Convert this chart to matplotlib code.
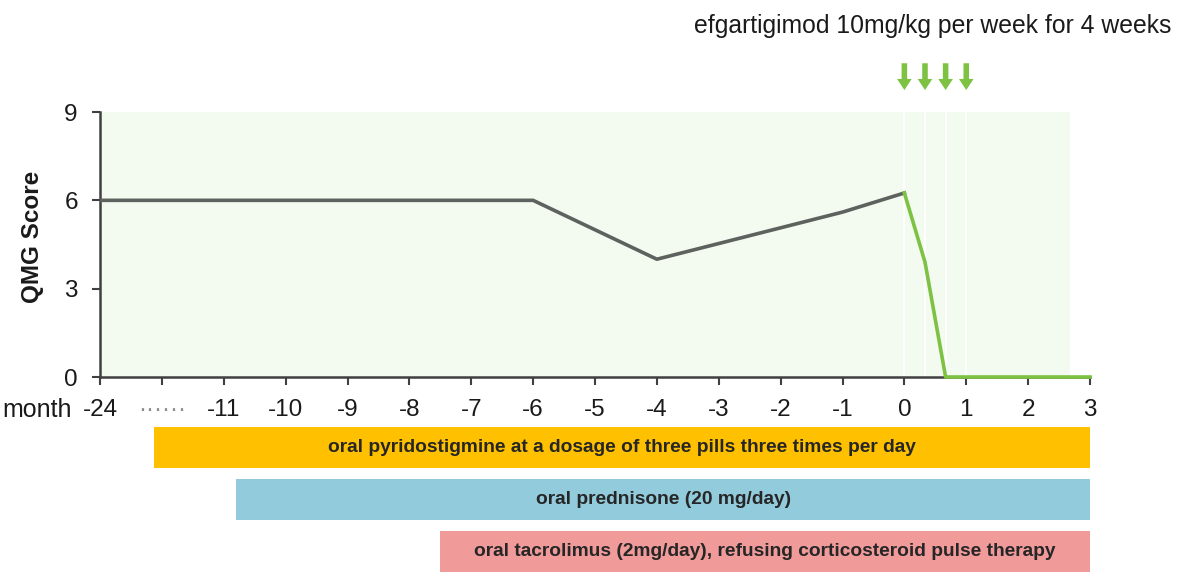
import numpy as np
import matplotlib.pyplot as plt

plt.rcParams['font.family'] = ['Liberation Sans', 'DejaVu Sans']

# --------------------------------
# Data
# --------------------------------
tick_labels = ["-24", "\u00b7\u00b7\u00b7\u00b7\u00b7\u00b7", "-11", "-10", "-9", "-8", "-7", "-6",
               "-5", "-4", "-3", "-2", "-1", "0", "1", "2", "3"]

# QMG score before efgartigimod (months)
pre_months = [-24, -6, -4, -1, 0]
pre_score = [6, 6, 4, 5.6, 6.25]

# QMG score during / after efgartigimod (months)
post_months = [0, 1/3, 2/3, 1, 2, 3]
post_score = [6.25, 3.9, 0, 0, 0, 0]

# weekly infusions
dose_months = [0, 1/3, 2/3, 1]

treatments = [
    "oral pyridostigmine at a dosage of three pills three times per day",
    "oral prednisone (20 mg/day)",
    "oral tacrolimus (2mg/day), refusing corticosteroid pulse therapy",
]
treat_start = [-18.3, -10.8, -7.5]
treat_end = [3, 3, 3]
treat_colors = ["#FFC000", "#92CBDC", "#F09A9A"]

shade_end = 2.67


def month_to_pos(m):
    # axis is broken between -24 and -11
    m = np.asarray(m, dtype=float)
    return np.where(m >= -11, m + 13, (m + 24) / 13 * 2)


# --------------------------------
# Figure
# --------------------------------
W, H = 1181, 578
fig = plt.figure(figsize=(W/100, H/100), dpi=100)

ax = fig.add_axes([100/W, 1-377/H, 990/W, 265/H])
ax.set_xlim(0, 16)
ax.set_ylim(0, 9)

ax.axvspan(0, float(month_to_pos(shade_end)), color="#F3FAEF", zorder=0, lw=0)
ax.vlines(month_to_pos(dose_months), 0, 9, color="white", lw=1.3, zorder=1)

ax.plot(month_to_pos(pre_months), pre_score, color="#5E625F", lw=2.6,
        zorder=3, solid_joinstyle="round")
ax.plot(month_to_pos(post_months), post_score, color="#7DC243", lw=2.6,
        zorder=4, solid_joinstyle="round", clip_on=False)

for s in ["top", "right"]:
    ax.spines[s].set_visible(False)
for s in ["left", "bottom"]:
    ax.spines[s].set_color("#404040")
    ax.spines[s].set_linewidth(1.8)

ax.set_yticks([0, 3, 6, 9])
ax.set_xticks(np.arange(len(tick_labels)))
ax.set_xticklabels(tick_labels)
ax.tick_params(axis="both", direction="out", length=6, width=1.5,
               color="#404040", labelsize=17.5, labelcolor="#1A1A1A")
ax.tick_params(axis="y", pad=10)
ax.tick_params(axis="x", pad=10)
ax.get_xticklabels()[1].set_color("#8A8A8A")

fig.text(33/W, 1-237/H, "QMG Score", rotation=90, ha="center", va="center",
         fontsize=17.5, fontweight="bold", color="#1A1A1A")
fig.text(2/W, 1-417/H, "month", ha="left", va="baseline",
         fontsize=18, color="#1A1A1A")

fig.text(933/W, 1-33/H, "efgartigimod 10mg/kg per week for 4 weeks",
         ha="center", va="baseline", fontsize=17.8, color="#1A1A1A")

# weekly dose arrows
for p in month_to_pos(dose_months):
    ax.annotate("", xy=(p, 9.65), xytext=(p, 10.75),
                arrowprops=dict(arrowstyle="simple,head_width=1.05,head_length=0.8,tail_width=0.4",
                                color="#7DC243", mutation_scale=10, lw=0),
                annotation_clip=False)

# --------------------------------
# Treatment bars
# --------------------------------
ax2 = fig.add_axes([100/W, 0, 990/W, 156.75/H])
ax2.set_xlim(0, 16)
ax2.set_ylim(2.5, -0.5)
ax2.axis("off")

rows = np.arange(len(treatments))
left = month_to_pos(treat_start)
right = month_to_pos(treat_end)
ax2.barh(rows, right-left, left=left, height=0.785, color=treat_colors)

for r, l, rr, t in zip(rows, left, right, treatments):
    ax2.text((l+rr)/2, r, t, ha="center", va="center",
             fontsize=13.8, fontweight="bold", color="#262626")

fig.savefig("out.png", dpi=100)
